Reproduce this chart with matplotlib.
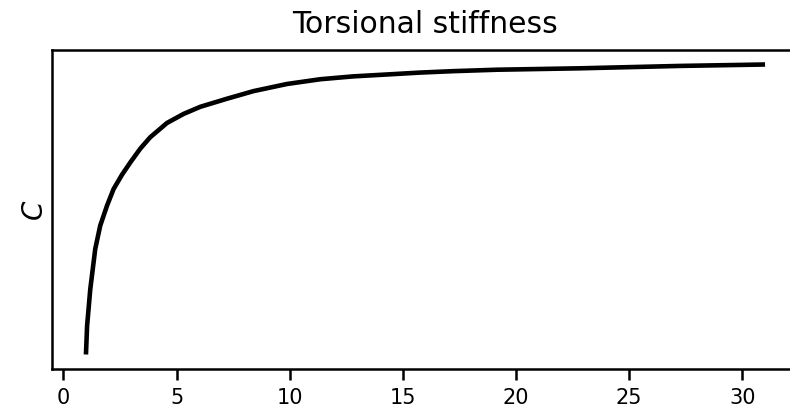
import matplotlib
matplotlib.use("Agg")
import matplotlib.pyplot as plt

# Aspect ratio of the section and the corresponding torsional stiffness coefficient
aspect_ratio = [1.0, 1.05, 1.19, 1.41, 1.63, 1.93, 2.22, 2.59, 2.96, 3.40, 3.84,
                4.58, 5.31, 6.05, 7.23, 8.40, 9.88, 11.35, 12.80, 14.29, 15.76,
                17.22, 19.15, 22.83, 27.24, 31.0]
stiffness = [0.370, 0.430, 0.507, 0.592, 0.641, 0.683, 0.718, 0.748, 0.774, 0.803, 0.827,
             0.857, 0.876, 0.891, 0.908, 0.924, 0.939, 0.949, 0.955, 0.959, 0.963,
             0.966, 0.969, 0.972, 0.977, 0.980]

fig = plt.figure(figsize=(7.90, 4.14), dpi=100)
ax = fig.add_axes([52 / 790, 44 / 414, 747 / 790, 319 / 414])

ax.plot(aspect_ratio, stiffness, color="black", linewidth=3.3,
        solid_capstyle="butt", solid_joinstyle="round")

ax.set_title("Torsional stiffness", fontsize=21.5, pad=13)
ax.set_ylabel("$C$", fontsize=20, labelpad=2)
ax.set_yticks([])
ax.set_xticks([0, 5, 10, 15, 20, 25, 30])
ax.tick_params(axis="x", labelsize=15, length=8, width=1.8, pad=5)
for sp in ax.spines.values():
    sp.set_linewidth(1.8)

fig.savefig("out.png", dpi=100)
